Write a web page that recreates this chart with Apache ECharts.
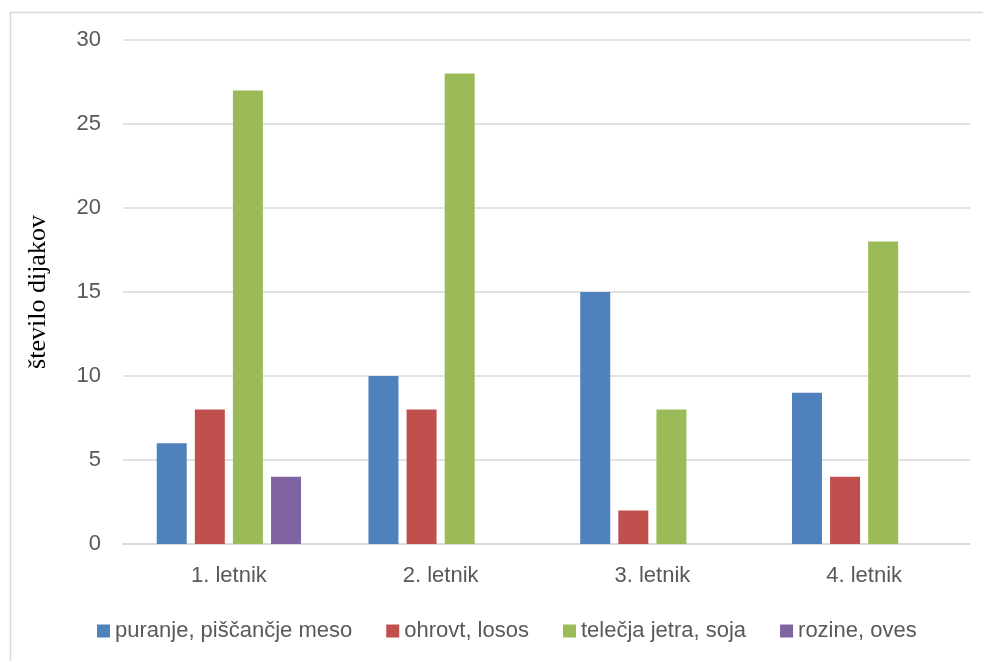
<!DOCTYPE html>
<html>
<head>
<meta charset="UTF-8">
<title>število dijakov</title>
<script src="https://cdn.jsdelivr.net/npm/echarts@6/dist/echarts.min.js"></script>
<style>
  html, body { margin: 0; padding: 0; background: #fff; }
  #main { width: 983px; height: 661px; }
</style>
</head>
<body>
<div id="main"></div>
<script>
  // categories and series
  var letniki = ['1. letnik', '2. letnik', '3. letnik', '4. letnik']
  var puranje = [6, 10, 15, 9]
  var ohrovt = [8, 8, 2, 4]
  var telecja = [27, 28, 8, 18]
  var rozine = [4, 0, 0, 0]

  var imena = ['puranje, piščančje meso', 'ohrovt, losos', 'telečja jetra, soja', 'rozine, oves']
  var barve = ['#4F81BD', '#C0504D', '#9BBB59', '#8064A2']

  function serija(i, data) {
    return {
      name: imena[i],
      type: 'bar',
      data: data,
      barWidth: 30,
      barGap: '27%',
      itemStyle: { color: barve[i] }
    }
  }

  var chart = echarts.init(document.getElementById('main'))
  chart.setOption({
    animation: false,
    graphic: [{
      type: 'rect',
      left: 8, top: 10,
      shape: { width: 1000, height: 700 },
      style: { fill: 'none', stroke: '#d9d9d9', lineWidth: 1.5 },
      silent: true
    }],
    grid: { left: 123, right: 13, top: 40, bottom: 117 },
    legend: {
      top: 615,
      left: 92,
      itemWidth: 13,
      itemHeight: 13,
      itemGap: 34,
      icon: 'rect',
      textStyle: { fontFamily: 'Liberation Sans', fontSize: 22, color: '#595959' },
      data: imena
    },
    xAxis: {
      type: 'category',
      data: letniki,
      axisLine: { lineStyle: { color: '#d9d9d9', width: 1.5 } },
      axisTick: { show: false },
      axisLabel: { fontFamily: 'Liberation Sans', fontSize: 22, color: '#595959', margin: 21 }
    },
    yAxis: {
      type: 'value',
      min: 0, max: 30, interval: 5,
      name: 'število dijakov',
      nameLocation: 'middle',
      nameGap: 72,
      nameTextStyle: { fontFamily: 'Liberation Serif', fontSize: 26, color: '#000' },
      axisLine: { show: false },
      axisTick: { show: false },
      axisLabel: { fontFamily: 'Liberation Sans', fontSize: 22, color: '#595959', margin: 22 },
      splitLine: { lineStyle: { color: '#d9d9d9', width: 1.5 } }
    },
    series: [
      serija(0, puranje),
      serija(1, ohrovt),
      serija(2, telecja),
      serija(3, rozine)
    ]
  })
</script>
</body>
</html>
